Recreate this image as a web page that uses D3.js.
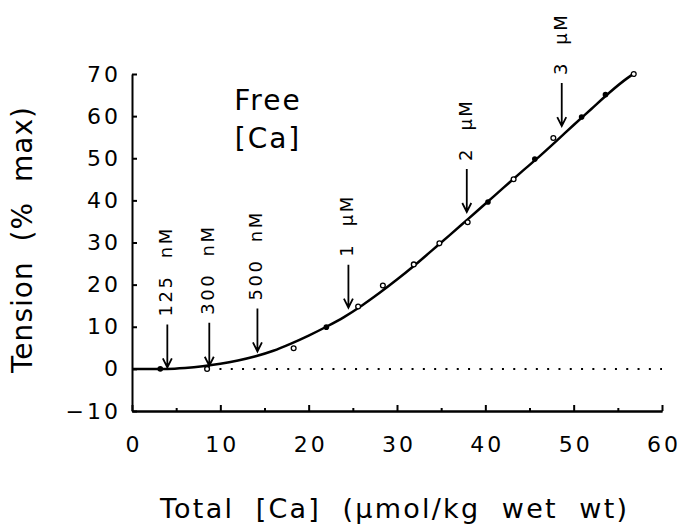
<!DOCTYPE html>
<meta charset="utf-8">
<head>
<style>
    body { margin: 0; background: #fff; }
    svg text { font-family: "DejaVu Sans", sans-serif; fill: #000; }
    .axis path, .axis line { fill: none; stroke: #000; stroke-width: 2px; }
    .axis text { font-size: 22px; letter-spacing: 3px; }
    .fit { fill: none; stroke: #000; stroke-width: 2.5px; }
    .zero { stroke: #000; stroke-width: 2px; stroke-dasharray: 2,9.3; }
    .arrow { fill: none; stroke: #000; stroke-width: 1.8px; }
    .tag { font-size: 18px; letter-spacing: 2.5px; white-space: pre; }
</style>
</head>
<body>
<script src="https://d3js.org/d3.v7.min.js"></script>
<script>

    // tick values
    var xTicks = [0, 10, 20, 30, 40, 50, 60];
    var xMinor = [5, 15, 25, 35, 45, 55];
    var yTicks = [-10, 0, 10, 20, 30, 40, 50, 60, 70];

    // measured points (total Ca, tension)
    var openX = [8.5, 18.3, 25.6, 28.4, 31.9, 34.8, 38.0, 43.2, 47.7, 56.8];
    var openY = [0, 4.9, 14.8, 19.8, 24.8, 29.8, 34.8, 45.0, 54.8, 70.0];
    var fillX = [3.2, 22.0, 40.3, 45.6, 50.9, 53.6];
    var fillY = [0, 9.9, 39.6, 49.8, 59.8, 65.1];

    // fitted curve
    var fitX = [0, 4, 6, 8, 10, 12, 14, 16, 18, 20, 22, 24, 26, 28, 30, 32, 34, 36, 38, 40, 42, 44, 46, 48, 50, 52, 54, 56, 56.9];
    var fitY = [0, 0, 0.2, 0.6, 1.2, 2.0, 3.0, 4.3, 6.0, 7.9, 10.0, 12.3, 15.0, 18.0, 21.2, 24.6, 28.2, 31.8, 35.5, 39.2, 42.9, 46.6, 50.2, 54.0, 57.9, 61.7, 65.5, 68.9, 70.2];

    // free [Ca] arrows: position on x and value at arrow tip
    var arrowLabels = ["125  nM", "300  nM", "500  nM", "1  μM", "2  μM", "3  μM"];
    var arrowX = [4.0, 8.75, 14.2, 24.5, 37.9, 48.65];
    var arrowTip = [0.1, 0.5, 3.9, 14.3, 37.0, 57.4];

    var margin = {top: 74, right: 18, bottom: 116, left: 132},
        width = 662 - margin.left,
        height = 411 - margin.top;

    var svg = d3.select("body").append("svg")
        .attr("width", 680)
        .attr("height", 527);

    var g = svg.append("g")
        .attr("transform", "translate(" + margin.left + "," + margin.top + ")");

    var x = d3.scaleLinear().domain([0, 60]).range([0, width]);
    var y = d3.scaleLinear().domain([-10, 70]).range([height, 0]);

    // axes, ticks pointing inward
    g.append("g")
        .attr("class", "axis")
        .attr("transform", "translate(0," + height + ")")
        .call(d3.axisBottom(x).tickValues(xMinor).tickSizeInner(-3).tickSizeOuter(0).tickFormat(""));

    g.append("g")
        .attr("class", "axis")
        .attr("transform", "translate(0," + height + ")")
        .call(d3.axisBottom(x).tickValues(xTicks).tickSizeInner(-6).tickSizeOuter(0).tickPadding(25));

    g.append("g")
        .attr("class", "axis")
        .call(d3.axisLeft(y).tickValues(yTicks).tickSizeInner(-5).tickSizeOuter(0).tickPadding(11)
            .tickFormat(function (d) { return d < 0 ? "\u2212" + (-d) : d; }));

    // x labels carry trailing letter-spacing, nudge them back to centre
    g.selectAll(".axis text").filter(function () { return this.getAttribute("dy") === "0.71em"; })
        .attr("dx", "1.5px");

    // zero line
    g.append("line")
        .attr("class", "zero")
        .attr("x1", x(9.9)).attr("x2", x(60))
        .attr("y1", y(0)).attr("y2", y(0));

    // fit
    var fit = fitX.map(function (d, i) { return [d, fitY[i]]; });
    g.append("path")
        .datum(fit)
        .attr("class", "fit")
        .attr("d", d3.line()
            .x(function (d) { return x(d[0]); })
            .y(function (d) { return y(d[1]); })
            .curve(d3.curveMonotoneX));

    // points
    g.selectAll(".open")
        .data(openX.map(function (d, i) { return [d, openY[i]]; }))
        .enter().append("circle")
        .attr("class", "open")
        .attr("cx", function (d) { return x(d[0]); })
        .attr("cy", function (d) { return y(d[1]); })
        .attr("r", 2.4)
        .attr("fill", "#fff")
        .attr("stroke", "#000")
        .attr("stroke-width", 1.3);

    g.selectAll(".filled")
        .data(fillX.map(function (d, i) { return [d, fillY[i]]; }))
        .enter().append("circle")
        .attr("class", "filled")
        .attr("cx", function (d) { return x(d[0]); })
        .attr("cy", function (d) { return y(d[1]); })
        .attr("r", 2.8)
        .attr("fill", "#000");

    // arrows with rotated labels
    var arrowLen = 43;
    arrowLabels.forEach(function (label, i) {
        var ax = x(arrowX[i]),
            tip = y(arrowTip[i]) - 1,
            top = tip - arrowLen;
        g.append("path")
            .attr("class", "arrow")
            .attr("d", "M" + ax + "," + top + "V" + tip +
                "M" + (ax - 4.5) + "," + (tip - 9) + "L" + ax + "," + tip + "L" + (ax + 4.5) + "," + (tip - 9));
        g.append("text")
            .attr("class", "tag")
            .attr("transform", "translate(" + (ax + 5) + "," + (top - 8) + ") rotate(-90)")
            .text(label);
    });

    // Free [Ca] note
    var note = g.append("text")
        .attr("text-anchor", "middle")
        .style("font-size", "28px")
        .style("letter-spacing", "2px");
    note.append("tspan").attr("x", 136).attr("y", 36).text("Free");
    note.append("tspan").attr("x", 136).attr("y", 74).text("[Ca]");

    // axis titles
    svg.append("text")
        .attr("x", 160)
        .attr("y", 518)
        .attr("textLength", 467)
        .attr("lengthAdjust", "spacing")
        .style("font-size", "27px")
        .style("white-space", "pre")
        .text("Total  [Ca]  (μmol/kg  wet  wt)");

    svg.append("text")
        .attr("transform", "translate(32,373) rotate(-90)")
        .attr("textLength", 266)
        .attr("lengthAdjust", "spacing")
        .style("font-size", "28px")
        .style("white-space", "pre")
        .text("Tension  (%  max)");

</script>
</body>
